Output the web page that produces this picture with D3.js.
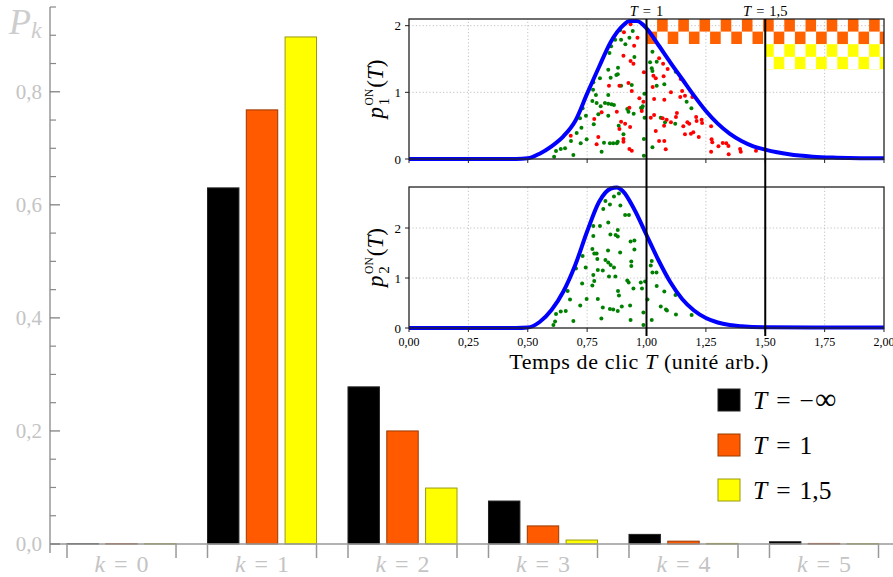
<!DOCTYPE html>
<html><head><meta charset="utf-8">
<script src="https://cdn.jsdelivr.net/npm/d3@7"></script>
<style>body{margin:0;background:#fff}svg{display:block}</style>
</head><body>
<svg id="c" width="893" height="577"></svg>
<script>
// ---------------- DATA ----------------
const kValues = [0, 1, 2, 3, 4, 5];
const seriesNames = ["T = −∞", "T = 1", "T = 1,5"];
const seriesRhs = ["−∞", "1", "1,5"];
const pMinusInf = [0.0005, 0.630, 0.278, 0.076, 0.017, 0.004];
const pT1       = [0.0005, 0.768, 0.200, 0.032, 0.005, 0.001];
const pT15      = [0.0005, 0.897, 0.099, 0.007, 0.001, 0.0005];
const yTicksMain = [0, 0.2, 0.4, 0.6, 0.8];
const yTickLabelsMain = ["0,0", "0,2", "0,4", "0,6", "0,8"];

const insetXTicks = [0, 0.25, 0.5, 0.75, 1, 1.25, 1.5, 1.75, 2];
const insetXTickLabels = ["0,00", "0,25", "0,50", "0,75", "1,00", "1,25", "1,50", "1,75", "2,00"];
const p1Ticks = [0, 1, 2];
const p2Ticks = [0, 1, 2];
const thresholds = [1, 1.5];
const thresholdLabels = ["1", "1,5"];
// checkerboard zones [T0, T1, v0, v1] in top panel
const orangeZone = [1, 2, 1.725, 2.1];
const yellowZone = [1.5, 2, 1.343, 1.725];

const p1Curve = [[0,0],[0.45,0.0],[0.5,0.01],[0.55,0.08],[0.6,0.19],[0.65,0.34],[0.7,0.57],[0.75,0.98],[0.8,1.38],[0.85,1.76],[0.9,2.0],[0.93,2.07],[0.96,2.07],[1.0,1.96],[1.05,1.71],[1.1,1.45],[1.15,1.2],[1.2,0.95],[1.25,0.72],[1.3,0.53],[1.35,0.38],[1.4,0.27],[1.45,0.19],[1.5,0.14],[1.55,0.1],[1.6,0.07],[1.7,0.035],[1.8,0.02],[1.9,0.012],[2.0,0.01]];
const p2Curve = [[0,0],[0.45,0.0],[0.5,0.01],[0.55,0.12],[0.6,0.36],[0.65,0.73],[0.7,1.26],[0.75,1.93],[0.8,2.52],[0.85,2.79],[0.875,2.81],[0.9,2.74],[0.95,2.36],[1.0,1.86],[1.05,1.36],[1.1,0.92],[1.15,0.58],[1.2,0.35],[1.25,0.2],[1.3,0.11],[1.35,0.06],[1.4,0.035],[1.5,0.015],[1.7,0.01],[2.0,0.01]];

const p1Green = [[0.889,1.93],[0.928,1.82],[0.942,1.92],[0.868,1.79],[0.893,1.79],[0.911,1.72],[0.851,1.69],[0.844,1.59],[0.949,1.53],[0.880,1.37],[0.839,1.34],[0.879,1.27],[0.873,1.26],[0.849,1.22],[0.804,1.21],[0.776,1.15],[0.893,1.10],[0.938,1.11],[0.775,1.04],[0.787,0.96],[0.839,0.96],[0.991,0.98],[0.772,0.87],[0.790,0.84],[0.825,0.84],[0.839,0.83],[0.853,0.82],[0.863,0.81],[0.807,0.79],[0.977,0.77],[0.731,0.76],[0.797,0.67],[0.839,0.65],[0.919,0.75],[0.924,0.71],[0.946,0.68],[0.745,0.65],[0.720,0.61],[0.883,0.50],[0.778,0.52],[0.726,0.47],[0.903,0.37],[0.706,0.39],[0.682,0.27],[0.879,0.26],[0.846,0.235],[0.860,0.235],[0.875,0.235],[0.821,0.245],[0.748,0.295],[0.723,0.235],[0.657,0.16],[0.639,0.15],[0.619,0.12],[0.811,0.11],[0.692,0.06],[0.611,0.035],[0.984,0.79],[0.980,0.76],[0.992,0.62],[0.989,0.30],[0.989,0.05],[1.025,1.61],[1.015,1.45],[1.043,1.46],[1.022,1.36],[1.025,1.32],[1.123,1.31],[1.043,1.10],[1.075,1.12],[1.169,0.86],[1.189,0.76],[1.060,0.62],[1.078,0.55],[1.121,0.53],[1.025,0.175]];
const p1Red = [[0.933,2.02],[0.962,1.82],[0.905,1.90],[0.948,1.70],[0.903,1.55],[0.933,1.47],[0.945,1.43],[0.842,1.10],[0.886,1.10],[0.924,1.14],[0.938,1.02],[0.970,0.91],[0.987,0.86],[0.811,0.70],[0.928,0.77],[0.875,0.71],[0.780,0.60],[0.893,0.56],[0.910,0.53],[0.886,0.45],[0.931,0.48],[0.681,0.35],[0.797,0.33],[0.903,0.30],[0.903,0.26],[0.790,0.22],[0.928,0.15],[0.938,0.125],[0.980,0.72],[0.989,1.30],[1.053,1.51],[1.070,1.43],[1.089,1.35],[1.029,1.25],[1.039,1.21],[1.072,1.24],[1.144,1.20],[1.026,1.08],[1.150,1.02],[1.162,0.95],[1.103,1.00],[1.032,0.90],[1.075,0.89],[1.142,0.93],[1.193,0.93],[1.128,0.69],[1.032,0.66],[1.018,0.62],[1.068,0.61],[1.124,0.63],[1.085,0.59],[1.103,0.55],[1.172,0.55],[1.180,0.53],[1.209,0.63],[1.211,0.57],[1.232,0.59],[1.234,0.54],[1.155,0.49],[1.272,0.49],[1.039,0.42],[1.074,0.50],[1.197,0.40],[1.187,0.38],[1.162,0.37],[1.220,0.33],[1.274,0.295],[1.277,0.25],[1.053,0.27],[1.075,0.27],[1.081,0.145],[1.303,0.19],[1.321,0.24],[1.336,0.235],[1.345,0.195],[1.272,0.11],[1.346,0.07],[1.394,0.15],[1.397,0.11],[1.461,0.125]];
const p2Green = [[0.863,2.63],[0.884,2.69],[0.827,2.54],[0.846,2.47],[0.818,2.38],[0.890,2.45],[0.910,2.26],[0.926,2.26],[0.839,2.11],[0.776,2.04],[0.804,2.04],[0.879,1.96],[0.848,1.87],[0.870,1.86],[0.879,1.83],[0.776,1.84],[0.933,1.73],[0.949,1.75],[0.772,1.58],[0.780,1.49],[0.790,1.49],[0.838,1.55],[0.889,1.51],[0.949,1.57],[0.731,1.44],[0.793,1.38],[0.827,1.36],[0.839,1.31],[0.849,1.26],[0.863,1.21],[0.936,1.33],[0.936,1.24],[1.022,1.34],[1.018,1.25],[1.025,1.11],[1.042,1.11],[0.703,1.19],[0.744,1.21],[0.795,1.16],[0.816,1.15],[0.776,1.06],[0.842,1.03],[0.869,1.03],[0.919,0.95],[0.925,0.91],[0.729,0.89],[0.772,0.85],[0.780,0.94],[0.976,0.91],[0.994,0.93],[1.043,0.84],[0.945,0.79],[0.981,0.79],[0.880,0.74],[0.884,0.65],[0.668,0.74],[1.075,0.73],[0.678,0.57],[0.748,0.58],[0.795,0.58],[1.004,0.57],[1.122,0.66],[0.931,0.45],[0.896,0.43],[0.721,0.45],[0.816,0.41],[0.846,0.38],[0.860,0.37],[0.879,0.34],[1.060,0.43],[1.082,0.37],[1.086,0.35],[0.639,0.33],[0.660,0.34],[0.619,0.28],[0.987,0.31],[1.124,0.27],[1.190,0.26],[0.810,0.19],[0.933,0.16],[1.022,0.16],[0.692,0.14],[0.615,0.13],[0.608,0.06],[0.987,0.06]];

// ---------------- STYLE ----------------
const FONT = "'Liberation Serif','DejaVu Serif',serif";
const barFill = ["#000000", "#ff5a00", "#ffff00"];
const barStroke = ["#222222", "#9a3a00", "#9a9a10"];
const GREY = "#c4c4c4";
const AXIS = "#999999";

const svg = d3.select("#c");

function mathText(g, parts, attrs) {
  const t = g.append("text").attr("font-family", FONT);
  Object.entries(attrs || {}).forEach(([k, v]) => t.attr(k, v));
  parts.forEach(p => {
    const s = t.append("tspan").text(p.t);
    if (p.it) s.attr("font-style", "italic");
    if (p.size) s.attr("font-size", p.size);
    if (p.dx !== undefined) s.attr("dx", p.dx);
    if (p.dy !== undefined) s.attr("dy", p.dy);
  });
  return t;
}
function eqText(g, lhs, rhs, sp, attrs) {
  return mathText(g, [{t: lhs, it: true}, {t: "=", dx: sp}, {t: rhs, dx: sp}], attrs);
}

// ---------------- MAIN CHART ----------------
const yMain = d3.scaleLinear().domain([0, 0.95]).range([544, 7]);
const xGroup = d3.scaleBand().domain(kValues).range([67, 878.5]).paddingInner(0.224).paddingOuter(0);
const xSeries = d3.scaleBand().domain([0, 1, 2]).range([0, xGroup.bandwidth()]).paddingInner(0.19);
const seriesData = [pMinusInf, pT1, pT15];

const main = svg.append("g");
seriesData.forEach((vals, s) => {
  main.append("g").selectAll("rect").data(kValues).join("rect")
    .attr("x", k => xGroup(k) + xSeries(s))
    .attr("width", xSeries.bandwidth())
    .attr("y", (k, i) => yMain(vals[i]))
    .attr("height", (k, i) => yMain(0) - yMain(vals[i]))
    .attr("fill", barFill[s]).attr("stroke", barStroke[s]).attr("stroke-width", 1);
});
main.append("line").attr("x1", 50).attr("x2", 893).attr("y1", yMain(0)).attr("y2", yMain(0))
  .attr("stroke", AXIS).attr("stroke-width", 1.5);
kValues.forEach(k => {
  [xGroup(k), xGroup(k) + xGroup.bandwidth()].forEach(x => {
    main.append("line").attr("x1", x).attr("x2", x).attr("y1", yMain(0)).attr("y2", yMain(0) + 14)
      .attr("stroke", AXIS).attr("stroke-width", 1.5);
  });
  eqText(main, "k", String(k), 9,
    {x: xGroup(k) + xGroup.bandwidth() / 2, y: 572, "text-anchor": "middle", "font-size": 24, fill: GREY});
});
main.append("line").attr("x1", 50).attr("x2", 50).attr("y1", yMain(0.95)).attr("y2", yMain(0) + 9)
  .attr("stroke", AXIS).attr("stroke-width", 1.5);
d3.range(0.05, 0.951, 0.05).forEach(v => {
  if (yTicksMain.some(t => Math.abs(t - v) < 1e-6)) return;
  main.append("line").attr("x1", 50).attr("x2", 56).attr("y1", yMain(v)).attr("y2", yMain(v))
    .attr("stroke", "#888").attr("stroke-width", 1.2);
});
yTicksMain.forEach((v, i) => {
  main.append("line").attr("x1", 50).attr("x2", 60).attr("y1", yMain(v)).attr("y2", yMain(v))
    .attr("stroke", "#777").attr("stroke-width", 1.2);
  main.append("text").attr("x", 42).attr("y", yMain(v) + 7).attr("text-anchor", "end")
    .attr("font-family", FONT).attr("font-size", 21).attr("fill", GREY).text(yTickLabelsMain[i]);
});
main.append("text").attr("x", 9).attr("y", 33.5).attr("font-family", FONT).attr("font-style", "italic")
  .attr("font-size", 36).attr("fill", "#cdcdcd").text("P");
main.append("text").attr("x", 31).attr("y", 38).attr("font-family", FONT).attr("font-style", "italic")
  .attr("font-size", 24).attr("fill", "#cdcdcd").text("k");

// legend
const legY = [389, 434, 479];
seriesRhs.forEach((rhs, s) => {
  main.append("rect").attr("x", 718).attr("y", legY[s]).attr("width", 22).attr("height", 22)
    .attr("fill", barFill[s]).attr("stroke", barStroke[s]).attr("stroke-width", 1);
  const parts = [{t: "T", it: true}, {t: "=", dx: 9}];
  if (rhs === "−∞") { parts.push({t: "−", dx: 9}, {t: "∞", dx: 1, size: 30}); }
  else parts.push({t: rhs, dx: 9});
  mathText(main, parts, {x: 753, y: legY[s] + 20, "font-size": 25.5, fill: "#000"});
});

// ---------------- INSET ----------------
const ins = svg.append("g");
const xIn = d3.scaleLinear().domain([0, 2]).range([409, 884]);
const y1 = d3.scaleLinear().domain([0, 2.1]).range([159, 19]);
const y2 = d3.scaleLinear().domain([0, 2.82]).range([328, 187]);

const defs = svg.append("defs");
const cw = 10.6, ch = 12.6;
function checker(id, color) {
  const p = defs.append("pattern").attr("id", id).attr("patternUnits", "userSpaceOnUse")
    .attr("x", xIn(1)).attr("y", y1(2.1)).attr("width", 2 * cw).attr("height", 2 * ch);
  p.append("rect").attr("x", cw).attr("y", 0).attr("width", cw).attr("height", ch).attr("fill", color);
  p.append("rect").attr("x", 0).attr("y", ch).attr("width", cw).attr("height", ch).attr("fill", color);
}
checker("chkO", "#ff6000");
checker("chkY", "#ffff00");

function panel(yS, ticks, yDomTop) {
  const g = ins.append("g");
  insetXTicks.slice(1, -1).forEach(t => {
    g.append("line").attr("x1", xIn(t)).attr("x2", xIn(t)).attr("y1", yS(0)).attr("y2", yS(yDomTop))
      .attr("stroke", "#bbb").attr("stroke-width", 0.9).attr("stroke-dasharray", "1.2,2.2");
  });
  ticks.slice(1).forEach(t => {
    g.append("line").attr("x1", xIn(0)).attr("x2", xIn(2)).attr("y1", yS(t)).attr("y2", yS(t))
      .attr("stroke", "#bbb").attr("stroke-width", 0.9).attr("stroke-dasharray", "1.2,2.2");
  });
  return g;
}
const g1 = panel(y1, p1Ticks, 2.1);
const g2 = panel(y2, p2Ticks, 2.82);

[[orangeZone, "chkO"], [yellowZone, "chkY"]].forEach(([z, id]) => {
  g1.append("rect").attr("x", xIn(z[0])).attr("width", xIn(z[1]) - xIn(z[0]))
    .attr("y", y1(z[3])).attr("height", y1(z[2]) - y1(z[3])).attr("fill", `url(#${id})`);
});

function dots(g, data, yS, color) {
  g.append("g").selectAll("circle").data(data).join("circle")
    .attr("cx", d => xIn(d[0])).attr("cy", d => yS(d[1])).attr("r", 2).attr("fill", color);
}
dots(g1, p1Green, y1, "#008000");
dots(g1, p1Red, y1, "#ff0000");
dots(g2, p2Green, y2, "#008000");

const curve1 = d3.line().x(d => xIn(d[0])).y(d => y1(d[1])).curve(d3.curveMonotoneX);
const curve2 = d3.line().x(d => xIn(d[0])).y(d => y2(d[1])).curve(d3.curveMonotoneX);
g1.append("path").attr("d", curve1(p1Curve)).attr("fill", "none").attr("stroke", "#0000ff").attr("stroke-width", 4);
g2.append("path").attr("d", curve2(p2Curve)).attr("fill", "none").attr("stroke", "#0000ff").attr("stroke-width", 4);

function frame(g, yS, ticks, yDomTop, labels) {
  g.append("rect").attr("x", xIn(0)).attr("y", yS(yDomTop)).attr("width", xIn(2) - xIn(0))
    .attr("height", yS(0) - yS(yDomTop)).attr("fill", "none").attr("stroke", "#222").attr("stroke-width", 1.3);
  ticks.forEach(t => {
    g.append("line").attr("x1", xIn(0) - 4).attr("x2", xIn(0)).attr("y1", yS(t)).attr("y2", yS(t))
      .attr("stroke", "#222").attr("stroke-width", 1);
    g.append("text").attr("x", xIn(0) - 8).attr("y", yS(t) + 4.5).attr("text-anchor", "end")
      .attr("font-family", FONT).attr("font-size", 13).text(t);
  });
  insetXTicks.forEach((t, i) => {
    g.append("line").attr("x1", xIn(t)).attr("x2", xIn(t)).attr("y1", yS(0)).attr("y2", yS(0) + 4)
      .attr("stroke", "#222").attr("stroke-width", 1);
    if (labels) g.append("text").attr("x", xIn(t)).attr("y", yS(0) + 18).attr("text-anchor", "middle")
      .attr("font-family", FONT).attr("font-size", 12).text(insetXTickLabels[i]);
  });
}
frame(g1, y1, p1Ticks, 2.1, false);
frame(g2, y2, p2Ticks, 2.82, true);

thresholds.forEach((t, i) => {
  ins.append("line").attr("x1", xIn(t)).attr("x2", xIn(t)).attr("y1", y1(2.1)).attr("y2", y2(0) + 8)
    .attr("stroke", "#000").attr("stroke-width", 2);
  eqText(ins, "T", thresholdLabels[i], 5,
    {x: xIn(t), y: 15.5, "text-anchor": "middle", "font-size": 14.5, fill: "#000"});
});

function yLabel(cy, sub) {
  const g = ins.append("g").attr("transform", `translate(383,${cy}) rotate(-90)`);
  mathText(g, [
    {t: "p", it: true},
    {t: "ON", size: 11.5, dy: -10, dx: 1.5},
    {t: sub, size: 15, dx: -16.5, dy: 16},
    {t: "(", dx: 10, dy: -6},
    {t: "T", it: true},
    {t: ")"}
  ], {x: 0, y: 0, "text-anchor": "middle", "font-size": 23, fill: "#000"});
}
yLabel((y1(0) + y1(2.1)) / 2, "1");
yLabel((y2(0) + y2(2.82)) / 2, "2");

mathText(ins, [{t: "Temps de clic "}, {t: "T", it: true}, {t: " (unité arb.)"}],
  {x: 639, y: 369, "text-anchor": "middle", "font-size": 22, "letter-spacing": 0.6, fill: "#000"});
</script>
</body></html>
